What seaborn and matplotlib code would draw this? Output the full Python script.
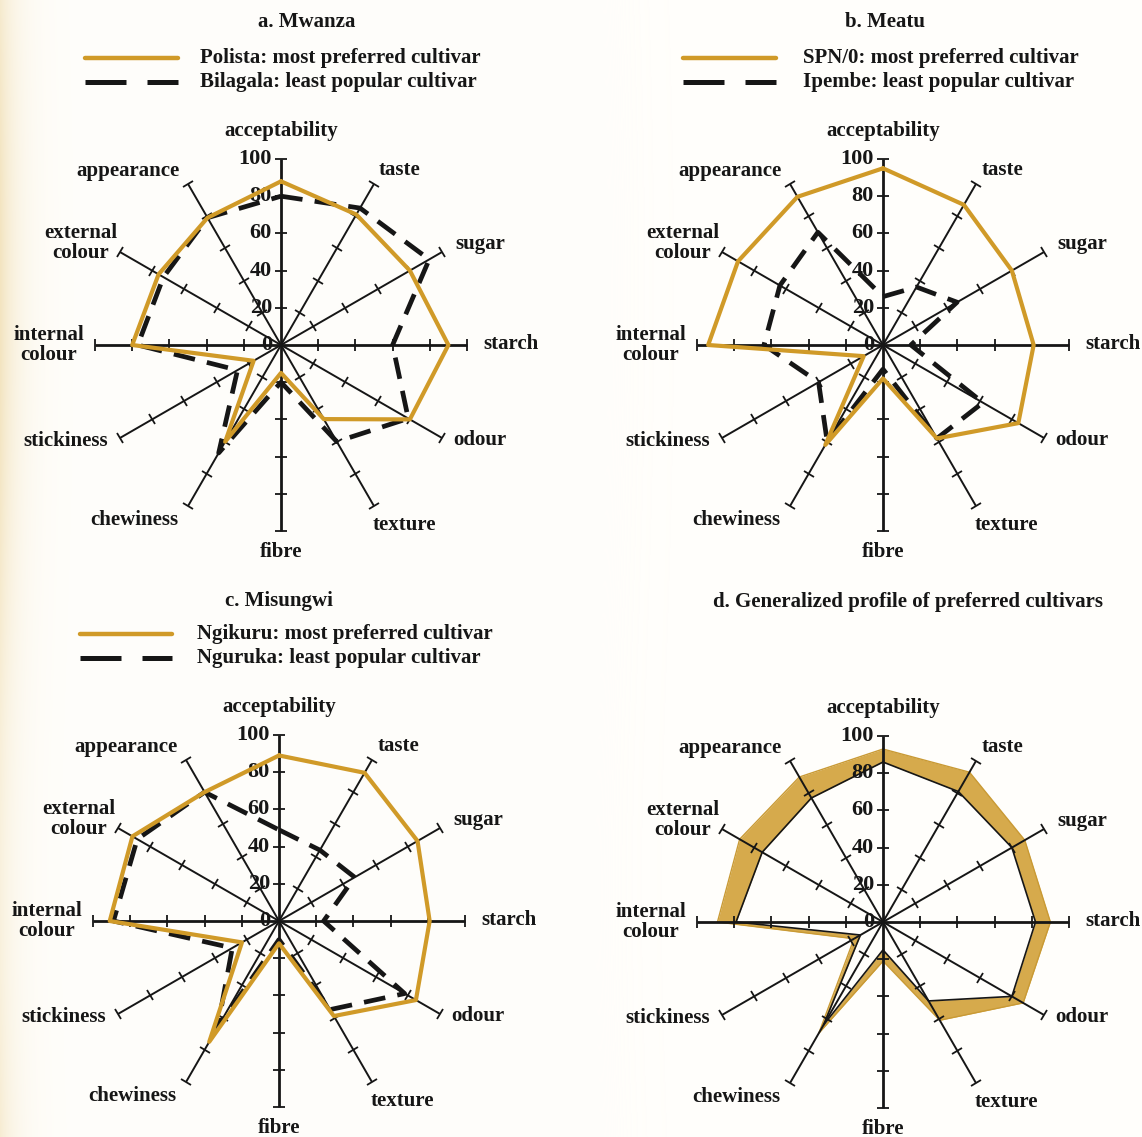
import numpy as np
import matplotlib
matplotlib.use("Agg")
import matplotlib.pyplot as plt
import seaborn as sns
from matplotlib.lines import Line2D
from matplotlib.markers import MarkerStyle
from matplotlib.transforms import Affine2D

sns.set_theme(style="white")
plt.rcParams["font.family"] = ["Liberation Serif", "DejaVu Serif"]
plt.rcParams["font.weight"] = "bold"

# ---------------------------------------------------------------- data
attributes = ["acceptability", "taste", "sugar", "starch", "odour", "texture",
              "fibre", "chewiness", "stickiness", "internal\ncolour",
              "external\ncolour", "appearance"]
tick_values = [0, 20, 40, 60, 80, 100]

# a. Mwanza
polista = [88, 81, 80, 90, 80, 46, 15, 60, 17, 80, 76, 79]
bilagala = [80, 85, 92, 60, 79, 60, 20, 67, 27, 77, 73, 79]
# b. Meatu
spn0 = [95, 87, 80, 81, 84, 58, 18, 62, 12, 94, 90, 92]
ipembe = [26, 36, 46, 15, 62, 58, 13, 60, 40, 64, 64, 70]
# c. Misungwi
ngikuru = [89, 92, 86, 81, 85, 59, 12, 75, 23, 91, 91, 80]
nguruka = [49, 44, 47, 24, 78, 55, 10, 66, 29, 89, 88, 80]
# d. Generalized profile (band between lower and upper bound)
profile_upper = [93, 93, 88, 90, 87, 61, 21, 69, 18, 89, 89, 90]
profile_lower = [86, 81, 80, 82, 80, 49, 15, 64, 14, 79, 75, 77]

legend_a = ["Polista: most preferred cultivar", "Bilagala: least popular cultivar"]
legend_b = ["SPN/0: most preferred cultivar", "Ipembe: least popular cultivar"]
legend_c = ["Ngikuru: most preferred cultivar", "Nguruka: least popular cultivar"]

# ---------------------------------------------------------------- style
W, H = 1142, 1137
R = 186                      # radius (px) of the 100 mark
GOLD = "#d09a28"
BAND = "#d6aa4c"
INK = "#161616"
FS = 15
FS_TICK = 16
DASH = (0, (4.6, 2.6))

fig = plt.figure(figsize=(W / 100, H / 100), dpi=100)
fig.patch.set_facecolor("#fffefb")

# paper tint along the left margin
bg = fig.add_axes([0, 0, 1, 1], zorder=-10)
xs = np.arange(W)
fade = np.exp(-xs / 18.0)[None, :] * (0.75 + 0.25 * np.sin(np.linspace(0, 6, H))[:, None])
paper = np.array([255, 254, 251]) / 255
edge = np.array([243, 228, 192]) / 255
img = paper[None, None, :] * (1 - fade[..., None]) + edge[None, None, :] * fade[..., None]
bg.imshow(img, aspect="auto", extent=[0, 1, 0, 1])
bg.set_axis_off()

theta = np.deg2rad(np.arange(len(attributes)) * 30.0)
theta_closed = np.r_[theta, theta[0] + 2 * np.pi]

# label offsets (px) from the end of each spoke: dx, dy, alignment
label_offsets = [(0, 28, "center"), (26, 14, "center"), (13, 8, "left"),
                 (16, 1, "left"), (11, -2, "left"), (30, -19, "center"),
                 (0, -21, "center"), (-10, -14, "right"), (-12, -3, "right"),
                 (-11, 0, "right"), (-3, 9, "right"), (-8, 13, "right")]


def fx(x):
    return x / W


def fy(y):
    return 1 - y / H


def radar_axes(cx, cy):
    ax = fig.add_axes([fx(cx - R), fy(cy + R), 2 * R / W, 2 * R / H],
                      projection="polar")
    ax.set_theta_zero_location("N")
    ax.set_theta_direction(-1)
    ax.set_axis_off()
    ax.patch.set_alpha(0)
    for i, t in enumerate(theta):
        main = (i % 3 == 0)
        ax.plot([t, t], [0, 100], color=INK, lw=2.0 if main else 1.4,
                clip_on=False, zorder=2, solid_capstyle="butt")
        mk = MarkerStyle("_", transform=Affine2D().rotate_deg(-np.rad2deg(t)))
        ax.plot([t] * 5, tick_values[1:], ls="none", marker=mk,
                markersize=9 if main else 7.5, markeredgewidth=1.3,
                color=INK, clip_on=False, zorder=2)
        dx, dy, ha = label_offsets[i]
        ax.annotate(attributes[i], xy=(t, 100), xytext=(dx, dy),
                    textcoords="offset pixels", ha=ha, va="center",
                    multialignment="center", fontsize=FS, fontweight="bold",
                    color=INK, annotation_clip=False, linespacing=0.95)
    for v in tick_values:
        ax.annotate(str(v), xy=(0, v), xytext=(-9, 0), textcoords="offset pixels",
                    ha="right", va="center", fontsize=FS_TICK, fontweight="bold",
                    color=INK, annotation_clip=False, zorder=3)
    return ax


def close(vals):
    return np.r_[vals, vals[0]]


def draw_pair(ax, best, worst):
    sns.lineplot(x=theta_closed, y=close(worst), ax=ax, sort=False,
                 estimator=None, color=INK, lw=3.4, linestyle=DASH,
                 clip_on=False, zorder=4)
    sns.lineplot(x=theta_closed, y=close(best), ax=ax, sort=False,
                 estimator=None, color=GOLD, lw=3.0, clip_on=False, zorder=5)
    ax.set_xlim(0, 2 * np.pi)
    ax.set_ylim(0, 100)


def legend(x0, x1, xt, y1, y2, labels):
    fig.add_artist(Line2D([fx(x0), fx(x1)], [fy(y1)] * 2, color=GOLD, lw=3.2,
                          transform=fig.transFigure))
    fig.add_artist(Line2D([fx(x0), fx(x1)], [fy(y2)] * 2, color=INK, lw=3.6,
                          linestyle=(0, (8.2, 4.2)), transform=fig.transFigure))
    fig.text(fx(xt), fy(y1), labels[0], ha="left", va="center", fontsize=FS,
             fontweight="bold", color=INK)
    fig.text(fx(xt), fy(y2), labels[1], ha="left", va="center", fontsize=FS,
             fontweight="bold", color=INK)


def title(x, y, s):
    fig.text(fx(x), fy(y), s, ha="center", va="center", fontsize=FS,
             fontweight="bold", color=INK)


# a. Mwanza
ax_a = radar_axes(281, 345)
draw_pair(ax_a, polista, bilagala)
title(307, 22, "a. Mwanza")
legend(85, 178, 200, 58, 82, legend_a)

# b. Meatu
ax_b = radar_axes(883, 345)
draw_pair(ax_b, spn0, ipembe)
title(885, 22, "b. Meatu")
legend(683, 776, 803, 58, 82, legend_b)

# c. Misungwi
ax_c = radar_axes(279, 921)
draw_pair(ax_c, ngikuru, nguruka)
title(279, 601, "c. Misungwi")
legend(80, 172, 197, 634, 658, legend_c)

# d. Generalized profile
ax_d = radar_axes(883, 922)
ax_d.fill_between(theta_closed, close(profile_lower), close(profile_upper),
                  color=BAND, lw=0, zorder=1, clip_on=False)
sns.lineplot(x=theta_closed, y=close(profile_upper), ax=ax_d, sort=False,
             estimator=None, color="#c99a35", lw=1.0, clip_on=False, zorder=1.5)
sns.lineplot(x=theta_closed, y=close(profile_lower), ax=ax_d, sort=False,
             estimator=None, color=INK, lw=1.2, clip_on=False, zorder=4)
ax_d.set_xlim(0, 2 * np.pi)
ax_d.set_ylim(0, 100)
title(908, 602, "d. Generalized profile of preferred cultivars")

fig.savefig("out.png", dpi=100, facecolor=fig.get_facecolor())
